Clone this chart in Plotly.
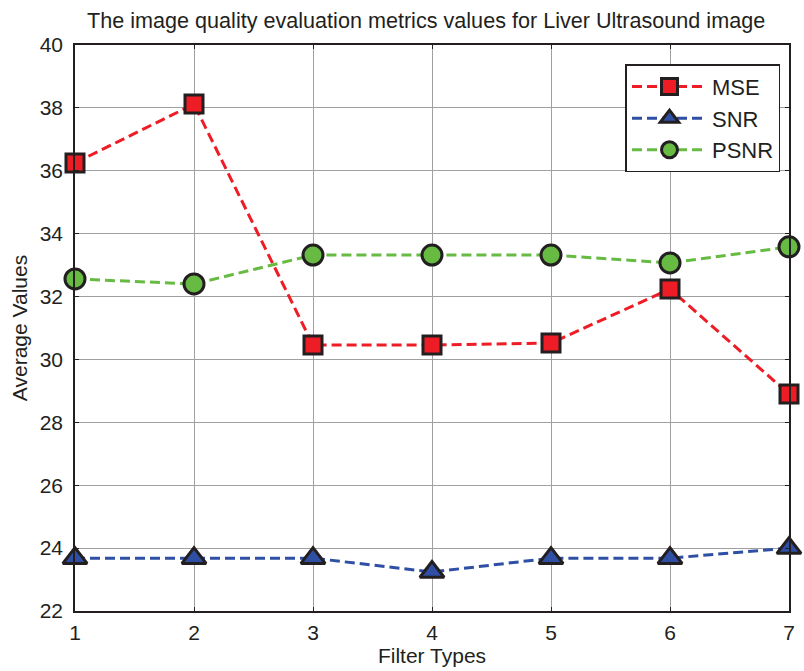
import plotly.graph_objects as go

filters = [1, 2, 3, 4, 5, 6, 7]
mse = [36.25, 38.12, 30.46, 30.46, 30.52, 32.24, 28.9]
snr = [23.68, 23.68, 23.68, 23.24, 23.68, 23.68, 24.0]
psnr = [32.56, 32.4, 33.32, 33.32, 33.32, 33.07, 33.58]
yticks = [22, 24, 26, 28, 30, 32, 34, 36, 38, 40]

font = "Liberation Sans, Arial"
dash = "10px,5px"

fig = go.Figure()
fig.add_trace(go.Scatter(x=filters, y=mse, name="MSE", mode="lines+markers",
    line=dict(color="#EE1C25", width=3, dash=dash),
    marker=dict(symbol="square", size=18, color="#EE1C25", line=dict(color="#231F20", width=3)),
    cliponaxis=False))
fig.add_trace(go.Scatter(x=filters, y=snr, name="SNR", mode="lines+markers",
    line=dict(color="#2E4FA3", width=3, dash=dash),
    marker=dict(symbol="triangle-up", size=21, color="#2E4FA3", line=dict(color="#231F20", width=3)),
    cliponaxis=False))
fig.add_trace(go.Scatter(x=filters, y=psnr, name="PSNR", mode="lines+markers",
    line=dict(color="#67BB43", width=3, dash=dash),
    marker=dict(symbol="circle", size=20, color="#67BB43", line=dict(color="#231F20", width=3)),
    cliponaxis=False))

fig.update_layout(
    width=804, height=671,
    margin=dict(l=75, r=9, t=45, b=60),
    paper_bgcolor="white", plot_bgcolor="white",
    font=dict(family=font, size=21, color="#231F20"),
    title=dict(text="The image quality evaluation metrics values for Liver Ultrasound image",
               x=0.53, xanchor="center", y=0.97, yanchor="middle",
               font=dict(family=font, size=21.6)),
    legend=dict(x=0.771, y=0.966, xanchor="left", yanchor="top",
                bordercolor="#231F20", borderwidth=1.5, bgcolor="white",
                font=dict(family=font, size=22), tracegroupgap=0, itemwidth=75),
    showlegend=True,
)
fig.update_xaxes(range=[1, 7], tickvals=filters,
    title=dict(text="Filter Types", standoff=2, font=dict(family=font, size=21)),
    showgrid=True, gridcolor="#A0A0A0", gridwidth=1,
    showline=True, linecolor="#231F20", linewidth=1.5, mirror="ticks",
    ticks="inside", ticklen=4, tickcolor="#231F20", zeroline=False,
    ticklabelstandoff=2)
fig.update_yaxes(range=[22, 40], tickvals=yticks,
    title=dict(text="Average Values", standoff=6, font=dict(family=font, size=21)),
    showgrid=True, gridcolor="#A0A0A0", gridwidth=1,
    showline=True, linecolor="#231F20", linewidth=1.5, mirror="ticks",
    ticks="inside", ticklen=4, tickcolor="#231F20", zeroline=False,
    ticklabelstandoff=6)

fig.write_html("out.html")
